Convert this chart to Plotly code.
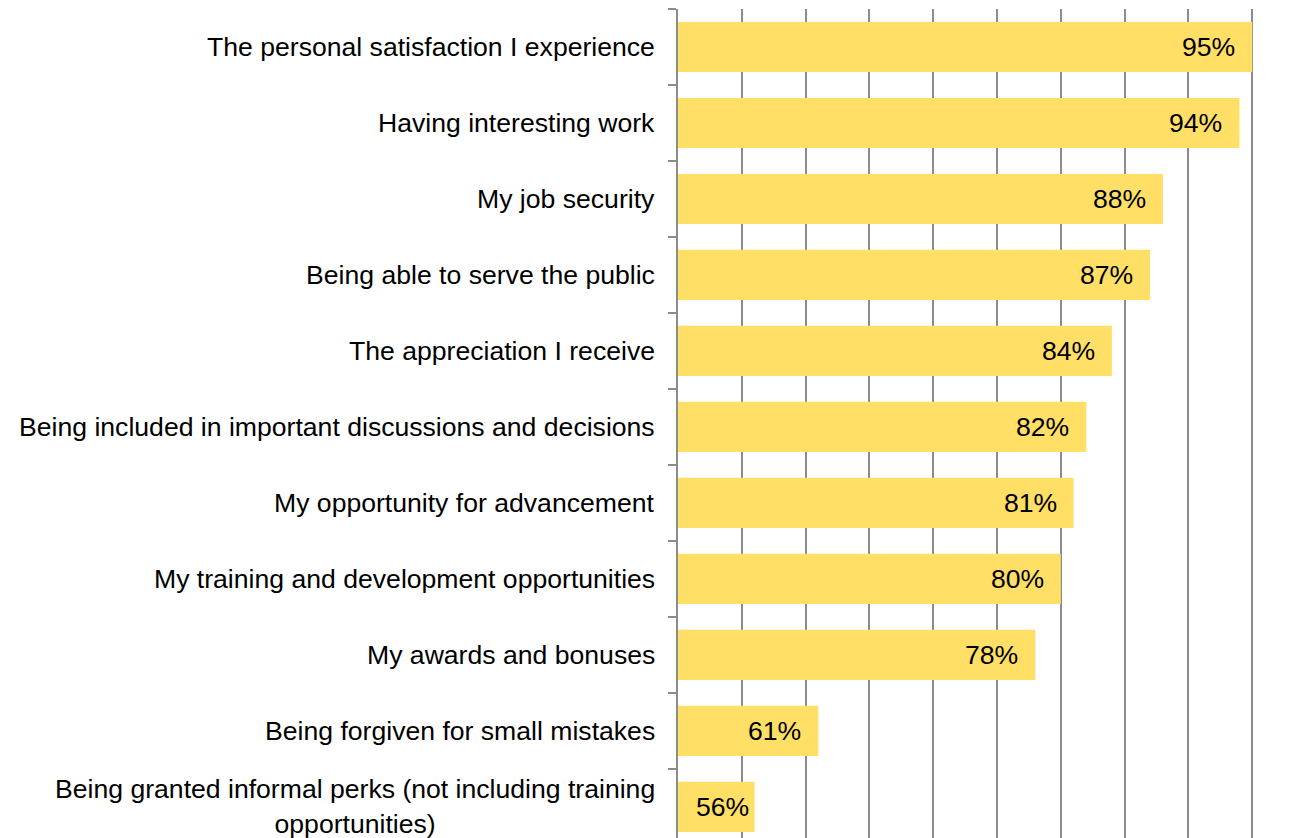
import plotly.graph_objects as go

# Survey items, top to bottom, and share of respondents (%)
categories = [
    "The personal satisfaction I experience",
    "Having interesting work",
    "My job security",
    "Being able to serve the public",
    "The appreciation I receive",
    "Being included in important discussions and decisions",
    "My opportunity for advancement",
    "My training and development opportunities",
    "My awards and bonuses",
    "Being forgiven for small mistakes",
    "Being granted informal perks (not including training<br>opportunities)",
]
values = [95, 94, 88, 87, 84, 82, 81, 80, 78, 61, 56]
value_labels = [f"{v}%" for v in values]

FONT = "Liberation Sans, Arial, sans-serif"
BAR = "#FFDF66"
GRID = "#8c8c8c"
FS = 26.6

W, H = 1297, 838
ML, MT = 678, 9
plot_w = W - ML

fig = go.Figure(
    go.Bar(
        x=values,
        y=categories,
        orientation="h",
        marker=dict(color=BAR, line=dict(width=0)),
        hoverinfo="skip",
    )
)

annotations = []
# category labels, right-aligned against the axis, multi-line ones centred
label_x = (657 - ML) / plot_w
for cat in categories:
    annotations.append(dict(
        x=label_x, xref="paper", y=cat, yref="y",
        text=cat, showarrow=False, xanchor="right", yanchor="middle",
        align="center", font=dict(family=FONT, size=FS, color="#000000"),
    ))
# value labels just inside the end of each bar
for cat, v, lab in zip(categories, values, value_labels):
    annotations.append(dict(
        x=v, xref="x", y=cat, yref="y",
        text=lab, showarrow=False, xanchor="right", yanchor="middle",
        xshift=-15 if v >= 60 else -4,
        font=dict(family=FONT, size=FS, color="#000000"),
    ))

fig.update_layout(
    width=W, height=H,
    margin=dict(l=ML, r=0, t=MT, b=0, pad=0),
    paper_bgcolor="white", plot_bgcolor="white",
    bargap=0.34,
    showlegend=False,
    annotations=annotations,
    font=dict(family=FONT, size=FS, color="#000000"),
)
fig.update_xaxes(
    range=[50, 50 + plot_w / 12.76],
    dtick=5, tick0=50,
    showgrid=True, gridcolor=GRID, gridwidth=1.5,
    showticklabels=False, ticks="",
    showline=False, zeroline=False,
    layer="below traces",
)
fig.update_yaxes(
    type="category",
    categoryorder="array", categoryarray=categories,
    range=[10.41, -0.5],
    tickson="boundaries",
    ticks="outside", ticklen=8, tickcolor=GRID, tickwidth=1.5,
    showticklabels=False,
    showgrid=False,
    showline=True, linecolor=GRID, linewidth=1.5,
    zeroline=False,
)

fig.write_html("out.html")
